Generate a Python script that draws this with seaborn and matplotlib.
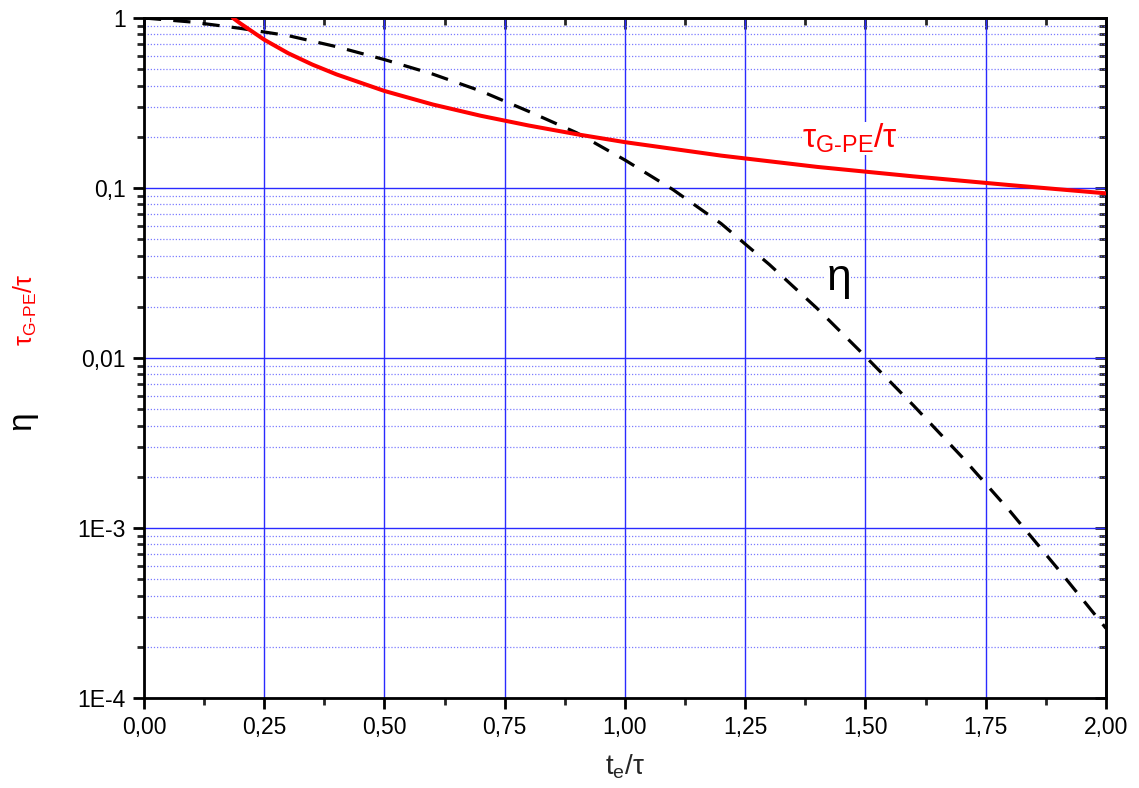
import numpy as np
import pandas as pd
import seaborn as sns
import matplotlib.pyplot as plt
from matplotlib.ticker import FixedLocator, LogLocator, NullFormatter, MultipleLocator

# tau_G-PE / tau (red solid)
tau_x = [0.185, 0.2, 0.25, 0.3, 0.35, 0.4, 0.5, 0.6, 0.7, 0.8, 0.9, 1.0,
         1.2, 1.4, 1.6, 1.8, 2.0]
tau_y = [1.0, 0.93, 0.745, 0.62, 0.532, 0.466, 0.372, 0.31, 0.266, 0.233, 0.207, 0.186,
         0.155, 0.133, 0.117, 0.104, 0.093]

# eta (black dashed)
eta_x = [0.0, 0.1, 0.2, 0.3, 0.4, 0.5, 0.6, 0.7, 0.8, 0.9, 1.0,
         1.1, 1.2, 1.3, 1.4, 1.5, 1.6, 1.7, 1.8, 1.9, 2.0]
eta_y = [1.0, 0.946, 0.869, 0.787, 0.678, 0.569, 0.468, 0.372, 0.282, 0.211, 0.146,
         0.0977, 0.0617, 0.0355, 0.0195, 0.0102, 0.00525, 0.00263, 0.00126, 0.000575, 0.000257]

x_ticks = [0, 0.25, 0.5, 0.75, 1.0, 1.25, 1.5, 1.75, 2.0]
x_labels = ['0,00', '0,25', '0,50', '0,75', '1,00', '1,25', '1,50', '1,75', '2,00']
y_ticks = [1e-4, 1e-3, 1e-2, 1e-1, 1]
y_labels = ['1E-4', '1E-3', '0,01', '0,1', '1']

sns.set_theme(style='ticks')
plt.rcParams['font.family'] = ['Liberation Sans', 'DejaVu Sans']
plt.rcParams['mathtext.fontset'] = 'custom'
plt.rcParams['mathtext.rm'] = 'Liberation Sans'
plt.rcParams['mathtext.it'] = 'Liberation Sans'

fig = plt.figure(figsize=(11.39, 7.88), dpi=100)
ax = fig.add_axes([0.1264, 0.1142, 0.8446, 0.8630])

df_tau = pd.DataFrame({'x': tau_x, 'y': tau_y})
df_eta = pd.DataFrame({'x': eta_x, 'y': eta_y})

sns.lineplot(data=df_eta, x='x', y='y', ax=ax, color='black', linewidth=2.3,
             zorder=3)
ax.lines[-1].set_dashes([5.4, 3.8])
sns.lineplot(data=df_tau, x='x', y='y', ax=ax, color='#ff0000', linewidth=2.9,
             zorder=4)

ax.set_yscale('log')
ax.set_xlim(0, 2)
ax.set_ylim(1e-4, 1)

ax.xaxis.set_major_locator(FixedLocator(x_ticks))
ax.set_xticklabels(x_labels)
ax.xaxis.set_minor_locator(MultipleLocator(0.125))
ax.yaxis.set_major_locator(FixedLocator(y_ticks))
ax.set_yticklabels(y_labels)
ax.yaxis.set_minor_locator(LogLocator(base=10, subs=np.arange(2, 10)))
ax.yaxis.set_minor_formatter(NullFormatter())

ax.grid(which='major', axis='both', color='#2a2aff', linewidth=1.0, linestyle='-')
ax.grid(which='minor', axis='y', color='#5a5aff', linewidth=0.9, linestyle=(0, (1, 1.5)), alpha=0.8)
ax.set_axisbelow(True)

for s in ax.spines.values():
    s.set_linewidth(2)
    s.set_color('black')

ax.tick_params(which='major', direction='out', length=8, width=2, labelsize=16.5,
               colors='black', left=True, bottom=True, top=False, right=False, pad=5)
ax.tick_params(which='minor', direction='out', length=5, width=2,
               left=True, bottom=True, top=False, right=False)

# inward ticks on the top and right spines
ax_top = ax.secondary_xaxis('top')
ax_top.xaxis.set_major_locator(FixedLocator(x_ticks))
ax_top.xaxis.set_minor_locator(MultipleLocator(0.125))
ax_top.tick_params(which='major', direction='in', length=8, width=2, labeltop=False)
ax_top.tick_params(which='minor', direction='in', length=5, width=2)
ax_top.spines['top'].set_linewidth(2)
ax_right = ax.secondary_yaxis('right')
ax_right.yaxis.set_major_locator(FixedLocator(y_ticks))
ax_right.yaxis.set_minor_locator(LogLocator(base=10, subs=np.arange(2, 10)))
ax_right.yaxis.set_minor_formatter(NullFormatter())
ax_right.tick_params(which='major', direction='in', length=8, width=2, labelright=False)
ax_right.tick_params(which='minor', direction='in', length=5, width=2)
ax_right.spines['right'].set_linewidth(2)

ax.set_xlabel(r'$\mathregular{t_e/\tau}$', fontsize=20, labelpad=10)
ax.set_ylabel('')

tau_label = r'$\mathregular{\tau_{G\text{-}PE}/\tau}$'
ax.text(1.468, 0.195, tau_label, color='#ff0000', fontsize=24,
        ha='center', va='center', zorder=5,
        bbox=dict(facecolor='white', edgecolor='none', pad=0))
ax.text(1.443, 0.0284, r'$\eta$', color='black', fontsize=32,
        ha='center', va='center', zorder=5,
        bbox=dict(facecolor='white', edgecolor='none', pad=1))

fig.text(0.022, 0.607, tau_label, color='#ff0000', fontsize=18,
         rotation=90, ha='center', va='center')
fig.text(0.022, 0.463, r'$\eta$', color='black', fontsize=24,
         rotation=90, ha='center', va='center')

fig.savefig('out.png', dpi=100)
